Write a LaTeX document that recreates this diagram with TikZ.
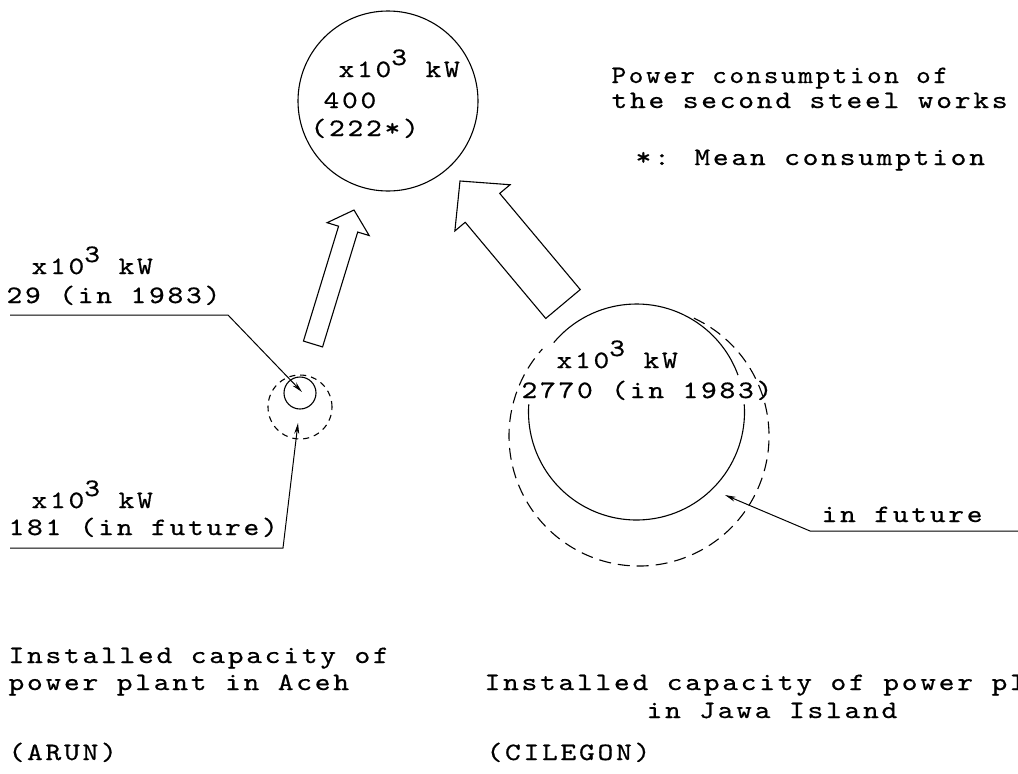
\documentclass[tikz,border=0pt]{standalone}
\usepackage{fontspec}
\newfontfamily\tw{lmmono10-regular.otf}[FakeStretch=1.2,FakeBold=0.6,LetterSpace=11]
\usetikzlibrary{calc,arrows.meta}
\newcommand\rup[1]{\raisebox{12pt}{#1}}
\begin{document}
\begin{tikzpicture}[x=1pt,y=-1pt,line width=1.1pt,
  lbl/.style={anchor=base west,inner sep=0pt,font=\tw\fontsize{25pt}{28pt}\selectfont},
  leader/.style={line width=1pt,-{Stealth[length=11pt,width=5pt]}},
  hollow/.style={line width=1.1pt,line join=miter},
  fut/.style={dash pattern=on 12pt off 7pt}]
\useasboundingbox (0,0) rectangle (1018,774);
% consumption circle
\node[draw,circle,minimum size=180pt,inner sep=0pt] (cons) at (388,101) {};
\node[lbl] (t1) at (338,77) {x10\rup{3} kW};
\node[lbl] (t2) at (323,108) {400};
\node[lbl] (t3) at (310,136) {(222*)};
\node[lbl] (p1) at (611,83) {\scalebox{0.93}[1]{Power consumption of}};
\node[lbl] (p2) at (611,108) {the second steel works};
\node[lbl] (p3) at (635,165) {*: Mean consumption};
% Aceh circles
\node[draw,circle,minimum size=32pt,inner sep=0pt] (aceh) at (300,393) {};
\node[draw,circle,minimum size=64pt,inner sep=0pt,dash pattern=on 6pt off 5pt] (acehf) at (300,407) {};
\node[lbl] (a1) at (31,274) {x10\rup{3} kW};
\node[lbl] (a2) at (6,303) {29 (in 1983)};
\node[lbl] (a3) at (31,508) {x10\rup{3} kW};
\node[lbl] (a4) at (8,535) {181 (in future)};
\coordinate (u1s) at (10,315);
\coordinate (u1e) at (228,315);
\coordinate (tip1) at (302,392);
\draw[leader] (u1s) -- (u1e) -- (tip1);
\coordinate (u2s) at (10,548);
\coordinate (u2e) at (283,548);
\coordinate (tip2) at (298,423);
\draw[leader] (u2s) -- (u2e) -- (tip2);
% Jawa circles
\coordinate (cJ) at (636.5,412);
\coordinate (cJf) at (639,436);
\draw (cJ) ++(-140:108) arc[start angle=-140,end angle=-20,radius=108];
\draw (cJ) ++(-4:108) arc[start angle=-4,end angle=184,radius=108];
\draw[fut] (cJf) ++(-65:130) arc[start angle=-65,end angle=222,radius=130];
\node[lbl] (b1) at (556,368) {x10\rup{3} kW};
\node[lbl] (b2) at (521,398) {2770 (in 1983)};
\node[lbl] (f1) at (821,522) {in future};
\coordinate (u3s) at (1018,531);
\coordinate (u3e) at (810,531);
\coordinate (tip3) at (725,495);
\draw[leader] (u3s) -- (u3e) -- (tip3);
% hollow arrows
\coordinate (tailL) at (313,344);
\coordinate (tipL) at (354,210);
\coordinate (baseL) at ($(tipL)!20pt!(tailL)$);
\draw[hollow] ($(tailL)!10pt!90:(tipL)$) -- ($(baseL)!10pt!90:(tipL)$) -- ($(baseL)!22pt!90:(tipL)$)
  -- (tipL) -- ($(baseL)!22pt!-90:(tipL)$) -- ($(baseL)!10pt!-90:(tipL)$) -- ($(tailL)!10pt!-90:(tipL)$) -- cycle;
\coordinate (tailR) at (563,304);
\coordinate (tipR) at (460,181);
\coordinate (baseR) at ($(tipR)!35pt!(tailR)$);
\draw[hollow] ($(tailR)!22.5pt!90:(tipR)$) -- ($(baseR)!22.5pt!90:(tipR)$) -- ($(baseR)!36pt!90:(tipR)$)
  -- (tipR) -- ($(baseR)!36pt!-90:(tipR)$) -- ($(baseR)!22.5pt!-90:(tipR)$) -- ($(tailR)!22.5pt!-90:(tipR)$) -- cycle;
% bottom captions
\node[lbl] (c1) at (8,663) {Installed capacity of};
\node[lbl] (c2) at (8,690) {power plant in Aceh};
\node[lbl] (c3) at (8,760) {(ARUN)};
\node[lbl] (d1) at (484,690) {Installed capacity of power plant};
\node[lbl] (d2) at (646,718) {in Jawa Island};
\node[lbl] (d3) at (486,760) {(CILEGON)};
\end{tikzpicture}
\end{document}
